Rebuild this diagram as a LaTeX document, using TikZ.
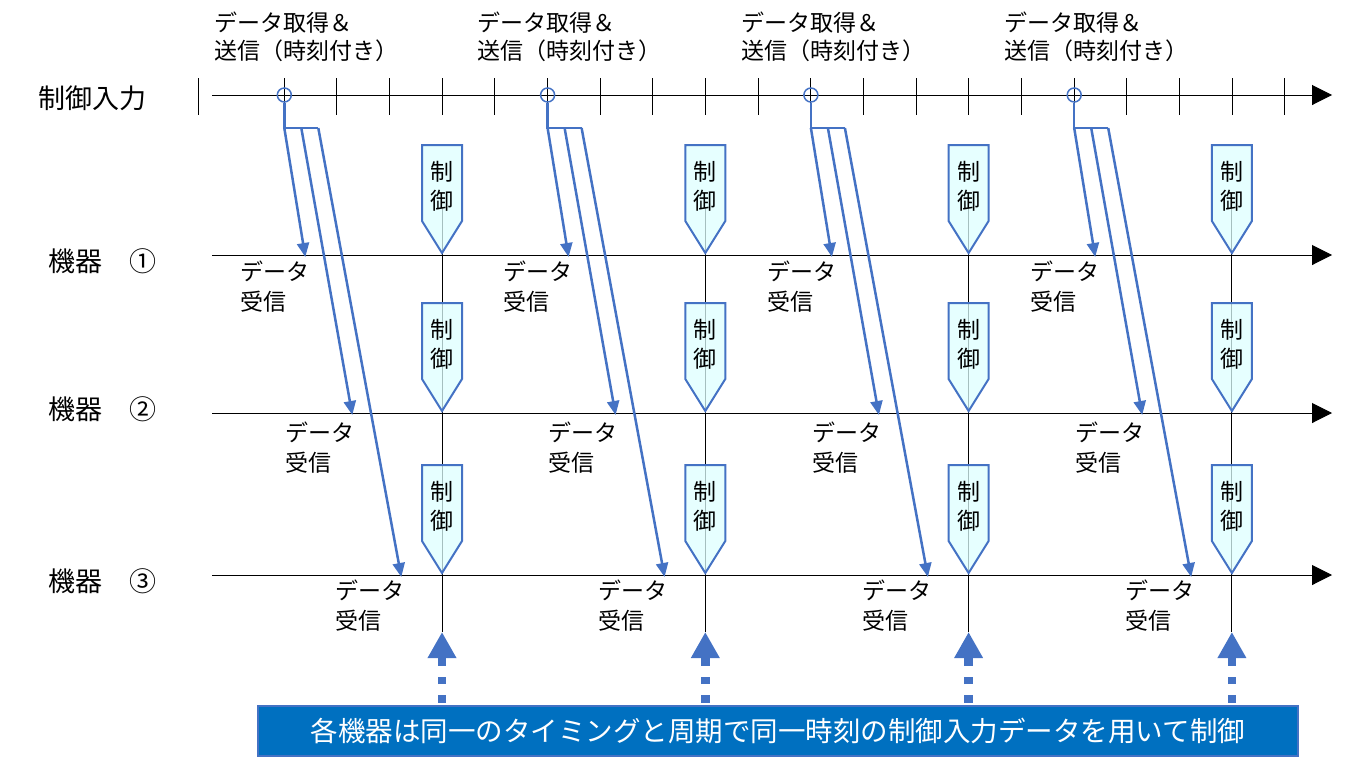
\documentclass[tikz,border=0pt]{standalone}
\usepackage{fontspec}
\setmainfont{Noto Sans CJK JP}
\usetikzlibrary{arrows.meta}
\definecolor{lineblue}{RGB}{68,114,196}
\definecolor{boxblue}{RGB}{0,112,192}
\definecolor{ctrlfill}{RGB}{221,255,255}

\begin{document}
\begin{tikzpicture}[x=1pt, y=-1pt,
    lbl/.style = {inner sep=0pt, anchor=west, align=left, font=\fontsize{23}{28}\selectfont},
    rx/.style = {inner sep=0pt, anchor=west, align=left, font=\fontsize{23}{30}\selectfont},
    dev/.style = {inner sep=0pt, anchor=west, font=\fontsize{27}{30}\selectfont},
    ctl/.style = {inner sep=0pt, align=center, font=\fontsize{23}{29}\selectfont},
    axis/.style = {line width=1pt, -{Triangle[width=20pt,length=20pt]}},
    feed/.style = {draw=lineblue, line width=2.5pt},
    send/.style = {draw=lineblue, line width=2.5pt, -{Triangle[width=12pt,length=14pt]}},
    ctrl/.style = {draw=lineblue, line width=2pt, fill=ctrlfill, fill opacity=0.75},
    up/.style = {draw=lineblue, line width=8.5pt, dash pattern=on 7.5pt off 11pt, dash phase=15.75pt,
                 -{Triangle[width=27pt,length=26pt]}}]
    \useasboundingbox (0,0) rectangle (1362,766);

    % labels on the left
    \node[dev] (in) at (38,98) {制御入力};
    \node[dev] (d1) at (48,261) {機器　①};
    \node[dev] (d2) at (48,409) {機器　②};
    \node[dev] (d3) at (48,581) {機器　③};

    % time axis and device lines
    \draw[line width=1pt] (198.3,78) -- (198.3,115);
    \foreach \j in {0,...,19}
        \draw[line width=1pt] (284.3+\j*52.66,78) -- ++(0,37);
    \foreach \y in {95,255,413,575}
        \draw[axis] (212,\y) -- (1332,\y);

    \foreach \k in {0,...,3} {
        \pgfmathsetmacro\bx{284.3+263.3*\k}
        \pgfmathsetmacro\cx{\bx+157.7}
        % sending
        \node[lbl] (tx\k) at (\bx-70,37) {データ取得＆\\送信（時刻付き）};
        \node[circle, draw=lineblue, line width=1.5pt, minimum size=14pt, inner sep=0pt] (src\k) at (\bx,95) {};
        \coordinate (fork\k) at (\bx,128);
        \draw[feed] (src\k) -- (fork\k) -- ++(34,0);
        \coordinate (r\k-1) at (\bx+21,257);
        \coordinate (r\k-2) at (\bx+68,415);
        \coordinate (r\k-3) at (\bx+117,577);
        \draw[send] (fork\k) -- (r\k-1);
        \draw[send] (\bx+17,128) -- (r\k-2);
        \draw[send] (\bx+34,128) -- (r\k-3);
        \node[rx] (rx\k-1) at (\bx-44,287) {データ\\受信};
        \node[rx] (rx\k-2) at (\bx+1,448) {データ\\受信};
        \node[rx] (rx\k-3) at (\bx+51,606) {データ\\受信};
        % control
        \coordinate (v\k) at (\cx,207);
        \coordinate (c\k) at (\cx,632);
        \draw[line width=1pt] (v\k) -- (c\k);
        \foreach \dy [count=\i] in {255,413,575} {
            \draw[ctrl] (\cx-20,\dy-110) -- (\cx+20,\dy-110) -- (\cx+20,\dy-34)
                -- (\cx,\dy-2) -- (\cx-20,\dy-34) -- cycle;
            \node[ctl] (ctl\k-\i) at (\cx,\dy-69) {制\\御};
        }
    }

    % note at the bottom
    \node[fill=boxblue, draw=lineblue, line width=1.5pt, minimum width=1040pt, minimum height=50pt,
          text=white, font=\fontsize{27.5}{30}\selectfont] (note) at (778,731)
          {各機器は同一のタイミングと周期で同一時刻の制御入力データを用いて制御};
    \foreach \k in {0,...,3}
        \draw[up] (note.north -| c\k) -- (c\k);
\end{tikzpicture}
\end{document}
